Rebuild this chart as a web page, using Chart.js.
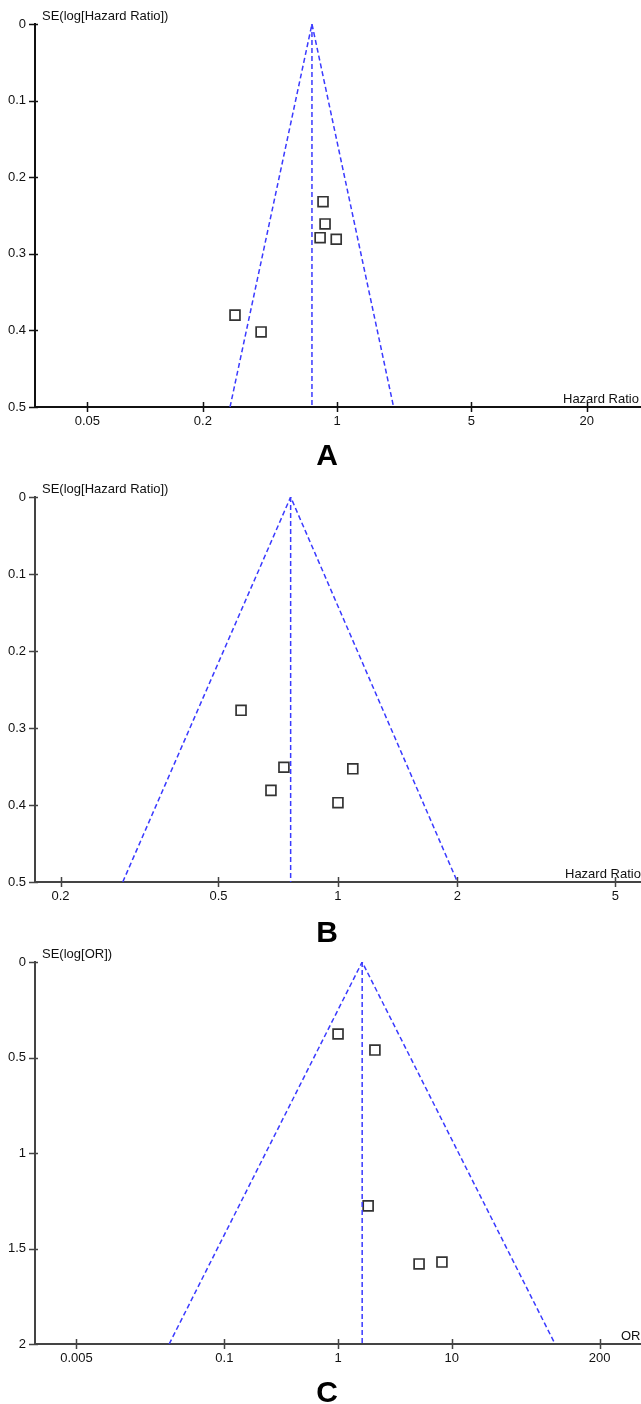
<!DOCTYPE html>
<html>
<head>
<meta charset="utf-8">
<script src="https://cdn.jsdelivr.net/npm/chart.js@4.4.1/dist/chart.umd.min.js"></script>
<style>
    html, body { margin: 0; padding: 0; background: #fff; overflow: hidden; }
    #wrap { position: relative; width: 641px; height: 1404px; }
    canvas { position: absolute; left: 0; }
    .panel-letter {
        position: absolute; left: 277px; width: 100px; text-align: center;
        font: bold 30px "Liberation Sans", Arial, sans-serif; line-height: 30px; color: #000;
    }
</style>
</head>
<body>
<div id="wrap">
    <canvas id="funnelA" width="641" height="440" style="top:0px"></canvas>
    <canvas id="funnelB" width="641" height="440" style="top:470px"></canvas>
    <canvas id="funnelC" width="641" height="440" style="top:940px"></canvas>
    <div class="panel-letter" style="top:440px">A</div>
    <div class="panel-letter" style="top:917px">B</div>
    <div class="panel-letter" style="top:1377px">C</div>
</div>
<script>
// Panel A - hazard ratio
const hrA = [0.845, 0.866, 0.816, 0.99, 0.294, 0.402];
const seA = [0.232, 0.261, 0.279, 0.281, 0.380, 0.402];
const pooledA = 0.74;
const funnelBaseA = [0.277, 1.97];   // funnel edges at the bottom SE
const xRangeA = [0.0267, 38.3];
const xTicksA = [0.05, 0.2, 1, 5, 20];
const yTicksA = [0, 0.1, 0.2, 0.3, 0.4, 0.5];

// Panel B - hazard ratio
const hrB = [0.570, 0.731, 0.678, 1.09, 1.0];
const seB = [0.277, 0.351, 0.381, 0.353, 0.397];
const pooledB = 0.76;
const funnelBaseB = [0.287, 2.0];
const xRangeB = [0.1725, 5.8];
const xTicksB = [0.2, 0.5, 1, 2, 5];
const yTicksB = [0, 0.1, 0.2, 0.3, 0.4, 0.5];

// Panel C - odds ratio
const orC = [1.0, 2.11, 1.84, 5.16, 8.2];
const seC = [0.377, 0.461, 1.277, 1.581, 1.571];
const pooledC = 1.63;
const funnelBaseC = [0.0327, 81];
const xRangeC = [0.00216, 462];
const xTicksC = [0.005, 0.1, 1, 10, 200];
const yTicksC = [0, 0.5, 1, 1.5, 2];

const FONT = '"Liberation Sans", Arial, sans-serif';
const FUNNEL_BLUE = '#3a3aff';

// Draws tick marks that cross the axis lines, plus the axis titles
const funnelDecor = {
    id: 'funnelDecor',
    afterDraw(chart, args, opts) {
        const { ctx, chartArea } = chart;
        const xs = chart.scales.x, ys = chart.scales.y;
        ctx.save();
        ctx.strokeStyle = opts.axisColor;
        ctx.lineWidth = 1.5;
        ctx.beginPath();
        xs.ticks.forEach(t => {
            const px = Math.round(xs.getPixelForValue(t.value)) + 0.5;
            ctx.moveTo(px, chartArea.bottom - 5);
            ctx.lineTo(px, chartArea.bottom + 5);
        });
        ys.ticks.forEach(t => {
            const py = Math.round(ys.getPixelForValue(t.value)) + 0.5;
            ctx.moveTo(chartArea.left - 6, py);
            ctx.lineTo(chartArea.left + 3, py);
        });
        ctx.stroke();

        ctx.fillStyle = '#111';
        ctx.font = '13px ' + FONT;
        ctx.textBaseline = 'middle';
        ctx.textAlign = 'left';
        ctx.fillText(opts.yTitle, chartArea.left + 7, chartArea.top - 8);
        ctx.fillText(opts.xTitle, opts.xTitleX, chartArea.bottom - 8);
        ctx.restore();
    }
};

function makeFunnel(canvasId, p) {
    const ctx = document.getElementById(canvasId).getContext('2d');
    const yMax = p.yTicks[p.yTicks.length - 1];

    const points = p.x.map((v, i) => ({ x: v, y: p.se[i] }));
    const dashed = {
        type: 'line',
        borderColor: FUNNEL_BLUE,
        borderWidth: 1.5,
        borderDash: [5, 3],
        pointRadius: 0,
        fill: false,
        tension: 0
    };

    return new Chart(ctx, {
        type: 'scatter',
        data: {
            datasets: [
                { ...dashed, data: [{ x: p.base[0], y: yMax }, { x: p.pooled, y: 0 }, { x: p.base[1], y: yMax }] },
                { ...dashed, data: [{ x: p.pooled, y: 0 }, { x: p.pooled, y: yMax }] },
                {
                    data: points,
                    pointStyle: 'rect',
                    pointRadius: 7,
                    pointBorderWidth: 1.7,
                    pointBorderColor: '#333',
                    pointBackgroundColor: 'rgba(255,255,255,0)'
                }
            ]
        },
        options: {
            responsive: false,
            animation: false,
            layout: {
                autoPadding: false,   // otherwise point size eats the right edge
                padding: { top: p.top, left: 0, right: 0, bottom: 0 }
            },
            plugins: {
                legend: { display: false },
                tooltip: { enabled: false },
                funnelDecor: { yTitle: p.yTitle, xTitle: p.xTitle, xTitleX: p.xTitleX, axisColor: p.axisColor }
            },
            scales: {
                x: {
                    type: 'logarithmic',
                    min: p.xRange[0],
                    max: p.xRange[1],
                    afterBuildTicks: s => { s.ticks = p.xTicks.map(v => ({ value: v })); },
                    afterFit: s => {
                        s.height = 440 - p.bottom;
                        s.paddingLeft = 0;
                        s.paddingRight = 0;
                    },
                    grid: { display: false, drawTicks: false },
                    border: { display: true, color: p.axisColor, width: 2 },
                    ticks: {
                        padding: 7,
                        autoSkip: false,
                        maxRotation: 0,
                        color: '#111',
                        font: { family: FONT, size: 13 },
                        callback: v => String(v)
                    }
                },
                y: {
                    type: 'linear',
                    reverse: true,
                    min: 0,
                    max: yMax,
                    afterBuildTicks: s => { s.ticks = p.yTicks.map(v => ({ value: v })); },
                    afterFit: s => {
                        s.width = 35;
                        s.paddingTop = 0;
                        s.paddingBottom = 0;
                    },
                    grid: { display: false, drawTicks: false },
                    border: { display: true, color: p.axisColor, width: 2 },
                    ticks: {
                        padding: 9,
                        color: '#111',
                        font: { family: FONT, size: 13 },
                        callback: v => String(v)
                    }
                }
            }
        },
        plugins: [funnelDecor]
    });
}

makeFunnel('funnelA', {
    x: hrA, se: seA, pooled: pooledA, base: funnelBaseA, xRange: xRangeA,
    xTicks: xTicksA, yTicks: yTicksA, top: 24, bottom: 407,
    yTitle: 'SE(log[Hazard Ratio])', xTitle: 'Hazard Ratio', xTitleX: 563, axisColor: '#111'
});
makeFunnel('funnelB', {
    x: hrB, se: seB, pooled: pooledB, base: funnelBaseB, xRange: xRangeB,
    xTicks: xTicksB, yTicks: yTicksB, top: 27, bottom: 412,
    yTitle: 'SE(log[Hazard Ratio])', xTitle: 'Hazard Ratio', xTitleX: 565, axisColor: '#444'
});
makeFunnel('funnelC', {
    x: orC, se: seC, pooled: pooledC, base: funnelBaseC, xRange: xRangeC,
    xTicks: xTicksC, yTicks: yTicksC, top: 22, bottom: 404,
    yTitle: 'SE(log[OR])', xTitle: 'OR', xTitleX: 621, axisColor: '#444'
});
</script>
</body>
</html>
